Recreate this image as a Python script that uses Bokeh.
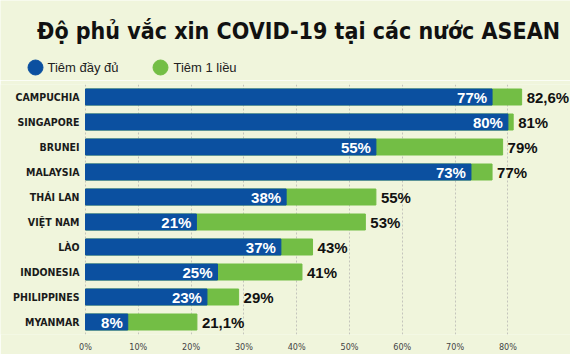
from bokeh.plotting import figure
from bokeh.layouts import column
from bokeh.models import Range1d, FactorRange, FixedTicker, PrintfTickFormatter, ColumnDataSource
from bokeh.core.properties import value
from bokeh.embed import file_html
from bokeh.resources import INLINE

# ---- data ----
title_text = "Độ phủ vắc xin COVID-19 tại các nước ASEAN"
legend_labels = ["Tiêm đầy đủ", "Tiêm 1 liều"]
countries = ["CAMPUCHIA", "SINGAPORE", "BRUNEI", "MALAYSIA", "THÁI LAN",
             "VIỆT NAM", "LÀO", "INDONESIA", "PHILIPPINES", "MYANMAR"]
full_dose = [77, 80, 55, 73, 38, 21, 37, 25, 23, 8]
one_dose = [82.6, 81, 79, 77, 55, 53, 43, 41, 29, 21.1]
x_ticks = [0, 10, 20, 30, 40, 50, 60, 70, 80]

# ---- styles ----
BG = "#f0f5dc"
BLUE = "#0b50a0"
GREEN = "#73be45"
NARROW = "'DejaVu Sans Condensed', sans-serif"
SANS = "'Liberation Sans', Arial, sans-serif"

W = 570
HEAD_H = 80

# ---- header figure (title + legend) ----
h = figure(frame_width=W, frame_height=HEAD_H, x_range=Range1d(0, W), y_range=Range1d(HEAD_H, 0),
           output_backend="svg", toolbar_location=None, min_border=0,
           x_axis_location=None, y_axis_location=None)
h.grid.visible = False
h.outline_line_color = None
h.background_fill_color = BG
h.border_fill_color = BG

h.text(x=[298], y=[30], text=[title_text], text_align="center", text_baseline="middle",
       text_font=value(NARROW), text_font_style="bold", text_font_size="23px", text_color="#111111")

leg_src = ColumnDataSource(dict(cx=[35, 160], tx=[47, 173], y=[67, 67],
                                color=[BLUE, GREEN], label=legend_labels))
h.scatter(x="cx", y="y", size=15, color="color", source=leg_src)
h.text(x="tx", y="y", text="label", source=leg_src, text_align="left", text_baseline="middle",
       text_font=value(SANS), text_font_size="13px", text_color="#222222")

# ---- chart figure ----
zero_px = 85
px_per_unit = 5.28
x_start = -zero_px / px_per_unit
x_end = (W - zero_px) / px_per_unit

p = figure(frame_width=W, frame_height=250, x_range=Range1d(x_start, x_end),
           y_range=FactorRange(factors=countries[::-1]),
           output_backend="svg", toolbar_location=None, y_axis_location=None,
           min_border_left=0, min_border_right=0, min_border_top=4, min_border_bottom=0)
p.background_fill_color = BG
p.border_fill_color = BG
p.outline_line_color = None

src = ColumnDataSource(dict(
    country=countries, full=full_dose, one=one_dose,
    zero=[0] * len(countries),
    full_lbl=[f"{v:g}%" for v in full_dose],
    one_lbl=[f"{v:g}".replace(".", ",") + "%" for v in one_dose],
))

p.hbar(y="country", left=0, right="one", height=0.64, color=GREEN, source=src)
p.hbar(y="country", left=0, right="full", height=0.64, color=BLUE, source=src)

# category labels
p.text(x="zero", y="country", text="country", source=src, x_offset=-6,
       text_align="right", text_baseline="middle", text_font=value(NARROW),
       text_font_style="bold", text_font_size="10.5px", text_color="#1a1a1a")

p.text(x="full", y="country", text="full_lbl", source=src, x_offset=-5,
       text_align="right", text_baseline="middle", text_font=value(SANS),
       text_font_style="bold", text_font_size="15px", text_color="white")
p.text(x="one", y="country", text="one_lbl", source=src, x_offset=5,
       text_align="left", text_baseline="middle", text_font=value(SANS),
       text_font_style="bold", text_font_size="15px", text_color="#111111")

p.xaxis.ticker = FixedTicker(ticks=x_ticks)
p.xaxis.formatter = PrintfTickFormatter(format="%d%%")
p.xaxis.axis_line_color = None
p.xaxis.major_tick_line_color = None
p.xaxis.minor_tick_line_color = None
p.xaxis.major_label_standoff = 1
p.xaxis.major_label_text_font = NARROW
p.xaxis.major_label_text_font_size = "9px"
p.xaxis.major_label_text_color = "#444444"

p.ygrid.grid_line_color = None
p.xgrid.grid_line_color = "#c4c4bc"
p.xgrid.grid_line_dash = "2 2"
p.xgrid.grid_line_width = 1

layout = column(h, p, spacing=0)
open("out.html", "w").write(file_html(layout, INLINE))
